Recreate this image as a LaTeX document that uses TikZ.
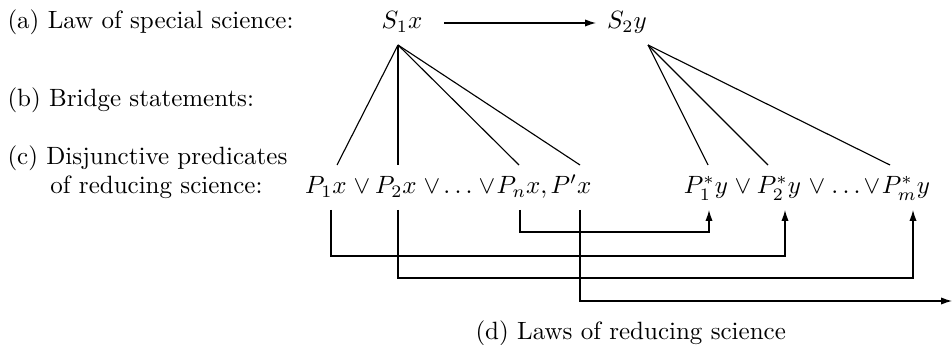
\documentclass[tikz,border=0pt]{standalone}
\usetikzlibrary{arrows.meta}
\begin{document}
\begin{tikzpicture}[x=0.4pt,y=-0.4pt,
  lbl/.style={anchor=base west, inner sep=0pt},
  term/.style={anchor=base, inner sep=0pt},
  link/.style={line width=0.45pt},
  arr/.style={link,-{Latex[length=4.4pt,width=2.9pt]}}]
\useasboundingbox (0,0) rectangle (952,345);
% labels
\node[lbl] (la) at (7,29) {(a) Law of special science:};
\node[lbl] (lb) at (7,107) {(b) Bridge statements:};
\node[lbl] (lc) at (7,165) {(c) Disjunctive predicates};
\node[lbl] (lc2) at (50,194) {of reducing science:};
\node[lbl] (ld) at (475,339) {(d) Laws of reducing science};
% top terms
\node[term] (s1) at (402,29) {$S_1x$};
\node[term] (s2) at (627,29) {$S_2y$};
\coordinate (s1r) at (444,23);
\coordinate (s2l) at (596,23);
\draw[arr] (s1r) -- (s2l);
\coordinate (s1b) at (398,45);
\coordinate (s2b) at (648,45);
% row 1
\node[term] (p1) at (326,194) {$P_1x$};
\node[term] (v1) at (362,194) {$\vee$};
\node[term] (p2) at (396,194) {$P_2x$};
\node[term] (v2) at (432,194) {$\vee$};
\node[term] (d1) at (458,194) {$\dots$};
\node[term] (v3) at (487,194) {$\vee$};
\node[term] (pn) at (522,194) {$P_nx,$};
\node[term] (pp) at (571,194) {$P'x$};
% row 2
\node[term] (q1) at (706,194) {$P^*_1y$};
\node[term] (w1) at (743,194) {$\vee$};
\node[term] (q2) at (779,194) {$P^*_2y$};
\node[term] (w2) at (817,194) {$\vee$};
\node[term] (d2) at (846,194) {$\dots$};
\node[term] (w3) at (872,194) {$\vee$};
\node[term] (qm) at (906,194) {$P^*_my$};
% bridge ends
\coordinate (t1) at (337,165);
\coordinate (t2) at (398,165);
\coordinate (t3) at (519,165);
\coordinate (t4) at (580,165);
\coordinate (u1) at (708,165);
\coordinate (u2) at (768,165);
\coordinate (u3) at (890,165);
\foreach \e in {t1,t2,t3,t4} \draw[link] (s1b) -- (\e);
\foreach \e in {u1,u2,u3} \draw[link] (s2b) -- (\e);
% law connectors
\coordinate (b1) at (331,210);
\coordinate (b2) at (398,210);
\coordinate (bn) at (520,210);
\coordinate (bp) at (580,210);
\coordinate (e1) at (709,210);
\coordinate (e2) at (785,210);
\coordinate (em) at (913,210);
\coordinate (er) at (952,301);
\draw[arr] (bn) -- ++(0,22) -| (e1);
\draw[arr] (b1) -- ++(0,46) -| (e2);
\draw[arr] (b2) -- ++(0,68) -| (em);
\draw[arr] (bp) |- (er);
\end{tikzpicture}
\end{document}
